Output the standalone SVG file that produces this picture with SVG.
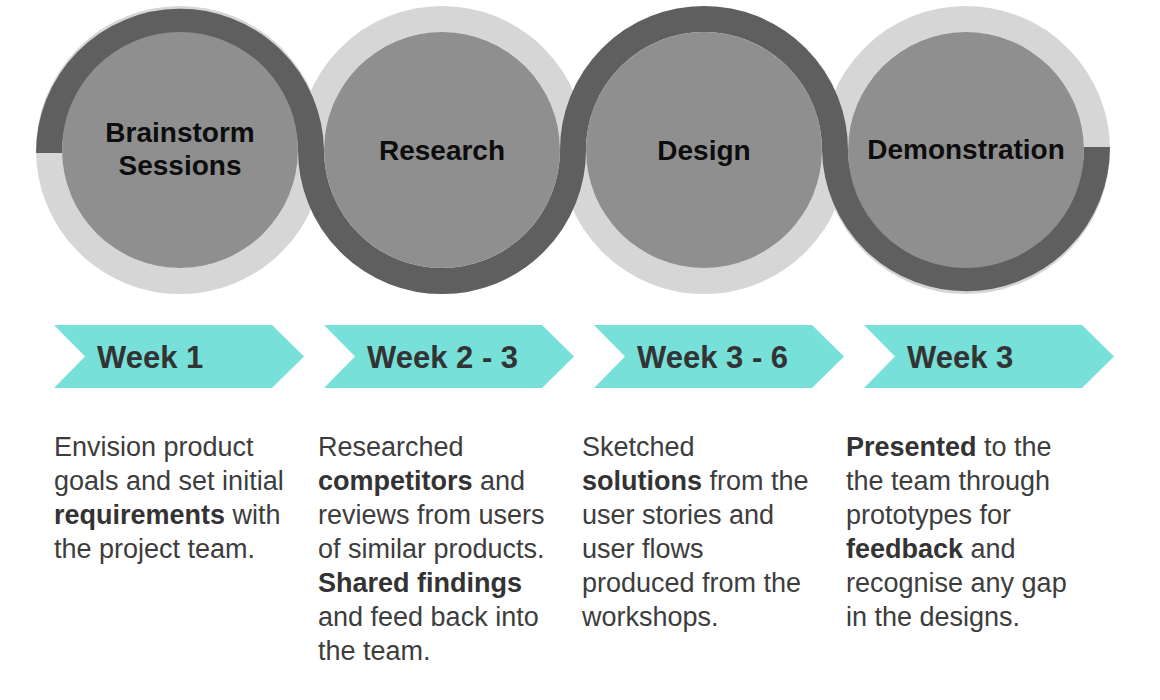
<svg xmlns="http://www.w3.org/2000/svg" width="1160" height="700" viewBox="0 0 1160 700">
  <style>
    .ring-light { fill: none; stroke: #d6d6d6; stroke-width: 26; }
    .ring-dark { fill: none; stroke: #5f5f5f; stroke-width: 26; stroke-linecap: butt; }
    .core { fill: #8f8f8f; }
    .stage { font-family: "Liberation Sans", Arial, sans-serif; font-weight: bold; font-size: 28px; fill: #0d0d0d; text-anchor: middle; }
    .chev { fill: #76e0d9; }
    .week { font-family: "Liberation Sans", Arial, sans-serif; font-weight: bold; font-size: 31px; fill: #333; }
    .desc { font-family: "Liberation Sans", Arial, sans-serif; font-size: 27px; fill: #3d3d3d; }
    .b { font-weight: bold; fill: #333; }
  </style>
  <defs>
    <polygon id="chevron" points="0,325 218,325 250,356.5 218,388 0,388 31,356.5"/>
  </defs>

  <rect width="1160" height="700" fill="#ffffff"/>

  <!-- track: pale rings with a dark band weaving through them -->
  <g id="connectors">
    <circle class="ring-light" cx="180" cy="150" r="131"/>
    <circle class="ring-light" cx="442" cy="150" r="131"/>
    <circle class="ring-light" cx="704" cy="150" r="131"/>
    <circle class="ring-light" cx="966" cy="150" r="131"/>
    <path class="ring-dark" d="M 49.03,153 A 131,131 0 0 1 311,150 A 131,131 0 0 0 573,150 A 131,131 0 0 1 835,150 A 131,131 0 0 0 1096.97,147"/>
  </g>

  <!-- stages -->
  <g id="stage-brainstorm">
    <circle class="core" cx="180" cy="150" r="118"/>
    <text class="stage" x="180" y="142">Brainstorm</text>
    <text class="stage" x="180" y="175">Sessions</text>
  </g>
  <g id="stage-research">
    <circle class="core" cx="442" cy="150" r="118"/>
    <text class="stage" x="442" y="160">Research</text>
  </g>
  <g id="stage-design">
    <circle class="core" cx="704" cy="150" r="118"/>
    <text class="stage" x="704" y="160">Design</text>
  </g>
  <g id="stage-demonstration">
    <circle class="core" cx="966" cy="150" r="118"/>
    <text class="stage" x="966" y="159">Demonstration</text>
  </g>

  <!-- timeline chevrons -->
  <g id="week-1">
    <use href="#chevron" class="chev" x="54"/>
    <text class="week" x="97" y="368">Week 1</text>
  </g>
  <g id="week-2-3">
    <use href="#chevron" class="chev" x="324"/>
    <text class="week" x="367" y="368">Week 2 - 3</text>
  </g>
  <g id="week-3-6">
    <use href="#chevron" class="chev" x="594"/>
    <text class="week" x="637" y="368">Week 3 - 6</text>
  </g>
  <g id="week-3">
    <use href="#chevron" class="chev" x="864"/>
    <text class="week" x="907" y="368">Week 3</text>
  </g>

  <!-- descriptions -->
  <g id="desc-brainstorm" class="desc">
    <text x="54" y="456">Envision product</text>
    <text x="54" y="490">goals and set initial</text>
    <text x="54" y="524"><tspan class="b">requirements</tspan> with</text>
    <text x="54" y="558">the project team.</text>
  </g>
  <g id="desc-research" class="desc">
    <text x="318" y="456">Researched</text>
    <text x="318" y="490"><tspan class="b">competitors</tspan> and</text>
    <text x="318" y="524">reviews from users</text>
    <text x="318" y="558">of similar products.</text>
    <text x="318" y="592"><tspan class="b">Shared findings</tspan></text>
    <text x="318" y="626">and feed back into</text>
    <text x="318" y="660">the team.</text>
  </g>
  <g id="desc-design" class="desc">
    <text x="582" y="456">Sketched</text>
    <text x="582" y="490"><tspan class="b">solutions</tspan> from the</text>
    <text x="582" y="524">user stories and</text>
    <text x="582" y="558">user flows</text>
    <text x="582" y="592">produced from the</text>
    <text x="582" y="626">workshops.</text>
  </g>
  <g id="desc-demonstration" class="desc">
    <text x="846" y="456"><tspan class="b">Presented</tspan> to the</text>
    <text x="846" y="490">the team through</text>
    <text x="846" y="524">prototypes for</text>
    <text x="846" y="558"><tspan class="b">feedback</tspan> and</text>
    <text x="846" y="592">recognise any gap</text>
    <text x="846" y="626">in the designs.</text>
  </g>
</svg>
